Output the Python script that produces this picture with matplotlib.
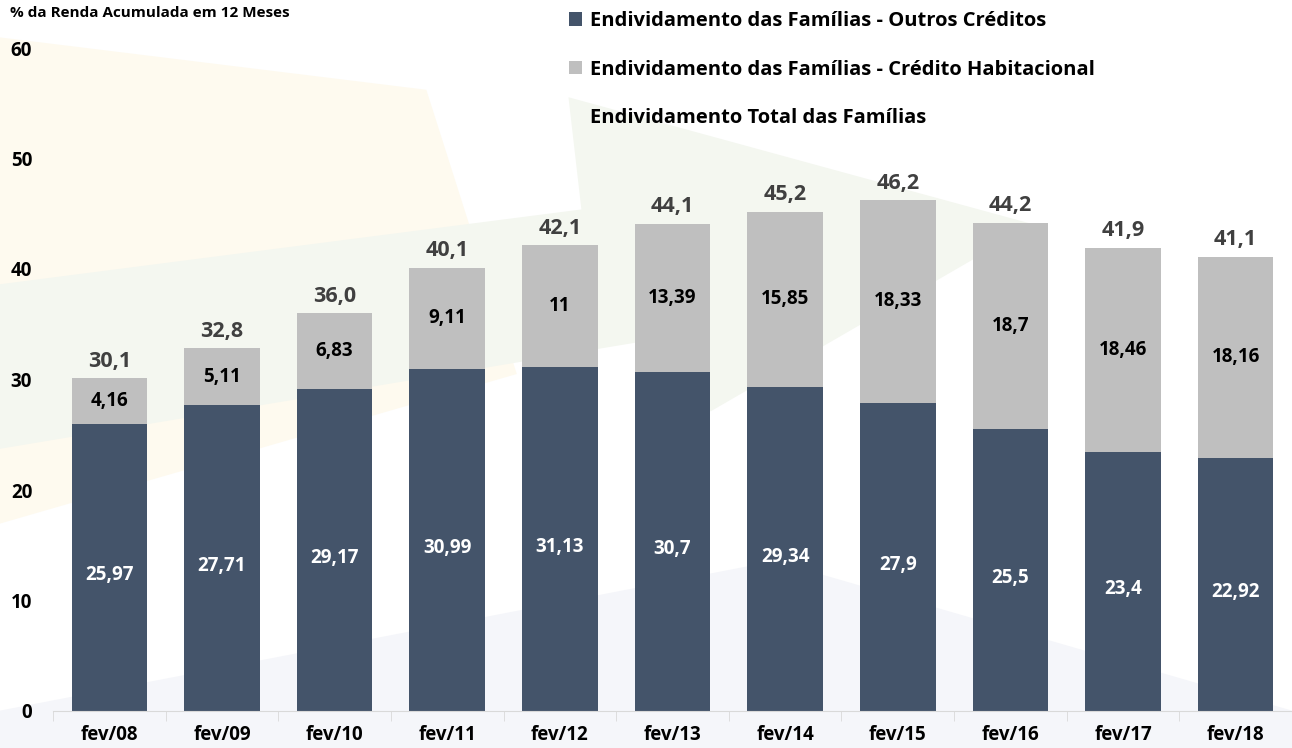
import matplotlib.pyplot as plt
from matplotlib.patches import Polygon
import numpy as np

categories = ["fev/08", "fev/09", "fev/10", "fev/11", "fev/12", "fev/13",
              "fev/14", "fev/15", "fev/16", "fev/17", "fev/18"]
outros = [25.97, 27.71, 29.17, 30.99, 31.13, 30.7, 29.34, 27.9, 25.5, 23.4, 22.92]
habitacional = [4.16, 5.11, 6.83, 9.11, 11, 13.39, 15.85, 18.33, 18.7, 18.46, 18.16]
total = [30.1, 32.8, 36.0, 40.1, 42.1, 44.1, 45.2, 46.2, 44.2, 41.9, 41.1]
hab_labels = ["4,16", "5,11", "6,83", "9,11", "11", "13,39", "15,85", "18,33", "18,7", "18,46", "18,16"]
outros_labels = ["25,97", "27,71", "29,17", "30,99", "31,13", "30,7", "29,34", "27,9", "25,5", "23,4", "22,92"]

dark = "#44546A"
light = "#BFBFBF"
plt.rcParams['font.family'] = ['Open Sans', 'DejaVu Sans']

fig = plt.figure(figsize=(12.92, 7.48), dpi=100)

# faint watermark arrows in the background
fig.patches.append(Polygon([(0.0, 0.95), (0.33, 0.88), (0.40, 0.50), (0.0, 0.30)],
                           closed=True, transform=fig.transFigure,
                           facecolor="#FEFAEF", edgecolor="none", zorder=-3))
fig.patches.append(Polygon([(0.0, 0.62), (0.45, 0.72), (0.44, 0.87), (0.80, 0.70),
                            (0.55, 0.45), (0.52, 0.55), (0.0, 0.40)],
                           closed=True, transform=fig.transFigure,
                           facecolor="#F4F7F0", edgecolor="none", zorder=-2))
fig.patches.append(Polygon([(0.0, 0.05), (0.6, 0.25), (1.0, 0.05), (1.0, 0.0), (0.0, 0.0)],
                           closed=True, transform=fig.transFigure,
                           facecolor="#F5F6FA", edgecolor="none", zorder=-3))

ax = fig.add_axes([53 / 1292, 37 / 748, 1239 / 1292, 663 / 748])
ax.patch.set_alpha(0)

x = np.arange(len(categories))
w = 0.67
b1 = ax.bar(x, outros, w, color=dark)
b2 = ax.bar(x, habitacional, w, bottom=outros, color=light)
ln, = ax.plot(x, total, color="none")

for i in range(len(x)):
    ax.text(x[i], outros[i] / 2 - 0.7, outros_labels[i], ha="center", va="center",
            color="white", fontsize=13.5, fontweight="bold")
    ax.text(x[i], outros[i] + habitacional[i] / 2, hab_labels[i], ha="center", va="center",
            color="black", fontsize=13.5, fontweight="bold")
    ax.text(x[i], total[i] + 0.6, f"{total[i]:.1f}".replace(".", ","), ha="center",
            va="bottom", color="#404040", fontsize=15.5, fontweight="bold")

ax.set_ylim(0, 60)
ax.set_xlim(-0.5, -0.5 + 1239 / 113.5)
ax.set_yticks(range(0, 61, 10))
ax.set_xticks(x)
ax.set_xticklabels(categories)
ax.set_xticks(np.arange(-0.5, len(x), 1), minor=True)
ax.tick_params(axis="x", which="major", length=0, pad=10, labelsize=13.5)
ax.tick_params(axis="x", which="minor", length=7, color="#D9D9D9")
ax.tick_params(axis="y", length=0, pad=15, labelsize=13.5)
for lab in ax.get_xticklabels() + ax.get_yticklabels():
    lab.set_fontweight("bold")
for s in ["top", "right", "left"]:
    ax.spines[s].set_visible(False)
ax.spines["bottom"].set_color("#D9D9D9")

fig.text(10 / 1292, 1 - 13 / 748, "% da Renda Acumulada em 12 Meses", fontsize=11,
         fontweight="bold", va="center", ha="left")

fig.legend([b1, b2, ln],
           ["Endividamento das Famílias - Outros Créditos",
            "Endividamento das Famílias - Crédito Habitacional",
            "Endividamento Total das Famílias"],
           loc="upper left", bbox_to_anchor=(551 / 1292, 1 + 7 / 748),
           frameon=False, handlelength=0.65, handleheight=0.65,
           handletextpad=0.4, labelspacing=1.42, prop={"weight": "bold", "size": 14.5})

fig.savefig("out.png", dpi=100)
